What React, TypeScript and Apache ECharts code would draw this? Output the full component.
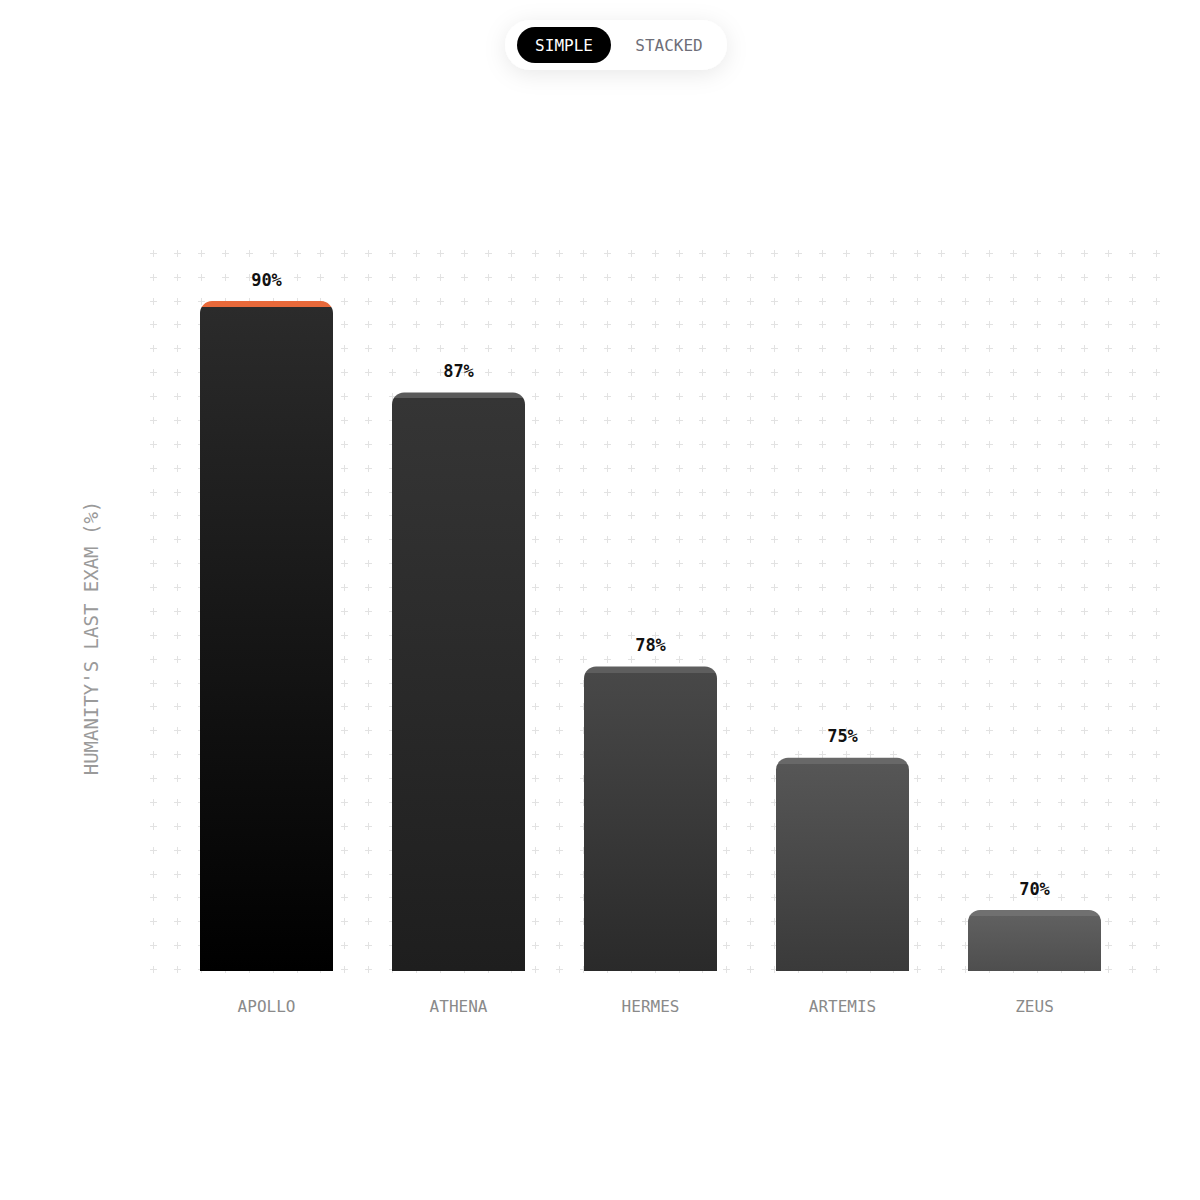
import React, { useEffect, useRef } from 'react';
import * as echarts from 'echarts';

const categories = ['APOLLO', 'ATHENA', 'HERMES', 'ARTEMIS', 'ZEUS'];
const scores = [90, 87, 78, 75, 70];
const bodyTop = ['#2b2b2b', '#353535', '#484848', '#565656', '#606060'];
const bodyBottom = ['#000000', '#1e1e1e', '#2a2a2a', '#3a3a3a', '#4e4e4e'];
const capColors = ['#e8693a', '#5a5a5a', '#5e5e5e', '#686868', '#707070'];
const toggleOptions = ['SIMPLE', 'STACKED'];
const yAxisTitle = "HUMANITY'S LAST EXAM (%)";

const MONO = '"DejaVu Sans Mono", "Liberation Mono", monospace';
const Y_MIN = 68;
const Y_MAX = 91.6;
const GRID_TOP = 252.4;
const GRID_BOTTOM = 971;
const CAP_PX = 6;

// dotted "+" backdrop, built once as one path
const buildPlusPath = () => {
    const step = 23.875;
    let d = '';
    for (let r = 0; r <= 30; r++) {
        for (let c = 0; c <= 42; c++) {
            const x = Math.round(153.3 + c * step) + 0.5;
            const y = Math.round(252.8 + r * step) + 0.5;
            d += `M${x - 3.5} ${y}H${x + 3.5}M${x} ${y - 3.5}V${y + 3.5}`;
        }
    }
    return d;
};
echarts.graphic.registerShape('plusgrid', echarts.graphic.extendPath(buildPlusPath(), {}));

const pxPerUnit = (GRID_BOTTOM - GRID_TOP) / (Y_MAX - Y_MIN);

const barData = scores.map((v, i) => {
    const cap = CAP_PX / ((v - Y_MIN) * pxPerUnit);
    return {
        value: v,
        itemStyle: {
            color: new echarts.graphic.LinearGradient(0, 0, 0, 1, [
                { offset: 0, color: capColors[i] },
                { offset: cap, color: capColors[i] },
                { offset: cap, color: bodyTop[i] },
                { offset: 1, color: bodyBottom[i] },
            ]),
        },
    };
});

const App: React.FC = () => {
    const chartRef = useRef<HTMLDivElement>(null);

    useEffect(() => {
        document.body.style.margin = '0';
        const chart = echarts.init(chartRef.current!, null, { renderer: 'svg' });
        const options: echarts.EChartsOption = {
            animation: false,
            backgroundColor: '#ffffff',
            textStyle: { fontFamily: MONO },
            grid: {
                left: 170.5,
                right: 69.5,
                top: GRID_TOP,
                bottom: 1200 - GRID_BOTTOM,
            },
            xAxis: {
                type: 'category',
                data: categories,
                axisLine: { show: false },
                axisTick: { show: false },
                axisLabel: {
                    color: '#8a8a8a',
                    fontSize: 16,
                    fontFamily: MONO,
                    margin: 27,
                },
            },
            yAxis: {
                type: 'value',
                min: Y_MIN,
                max: Y_MAX,
                axisLine: { show: false },
                axisTick: { show: false },
                axisLabel: { show: false },
                splitLine: { show: false },
            },
            series: [
                {
                    type: 'bar',
                    data: barData,
                    barWidth: 133,
                    itemStyle: { borderRadius: [12, 12, 0, 0] },
                    label: {
                        show: true,
                        position: 'top',
                        distance: 13,
                        formatter: '{c}%',
                        color: '#111111',
                        fontSize: 17,
                        fontWeight: 'bold',
                        fontFamily: MONO,
                    },
                },
            ],
            graphic: [
                {
                    type: 'plusgrid',
                    x: 0,
                    y: 0,
                    z: -10,
                    silent: true,
                    style: { fill: 'none', stroke: '#e2e2e2', lineWidth: 1 },
                } as any,
                {
                    type: 'text',
                    x: 91,
                    y: 638,
                    rotation: Math.PI / 2,
                    style: {
                        text: yAxisTitle,
                        fill: '#9a9a9a',
                        font: `19px ${MONO}`,
                        align: 'center',
                        verticalAlign: 'middle',
                    },
                },
                {
                    type: 'rect',
                    z: 10,
                    shape: { x: 505, y: 20, width: 222, height: 50, r: 25 },
                    style: {
                        fill: '#ffffff',
                        shadowBlur: 22,
                        shadowColor: 'rgba(0,0,0,0.09)',
                        shadowOffsetY: 4,
                    },
                },
                {
                    type: 'rect',
                    z: 11,
                    shape: { x: 517, y: 27, width: 94, height: 36, r: 18 },
                    style: { fill: '#000000' },
                },
                {
                    type: 'text',
                    z: 12,
                    x: 564,
                    y: 45,
                    style: {
                        text: toggleOptions[0],
                        fill: '#ffffff',
                        font: `16px ${MONO}`,
                        align: 'center',
                        verticalAlign: 'middle',
                    },
                },
                {
                    type: 'text',
                    z: 12,
                    x: 669,
                    y: 45,
                    style: {
                        text: toggleOptions[1],
                        fill: '#6e6e78',
                        font: `16px ${MONO}`,
                        align: 'center',
                        verticalAlign: 'middle',
                    },
                },
            ],
        };
        chart.setOption(options);
        return () => {
            chart.dispose();
        };
    }, []);

    return <div ref={chartRef} style={{ width: 1200, height: 1200 }} />;
};

export default App;
